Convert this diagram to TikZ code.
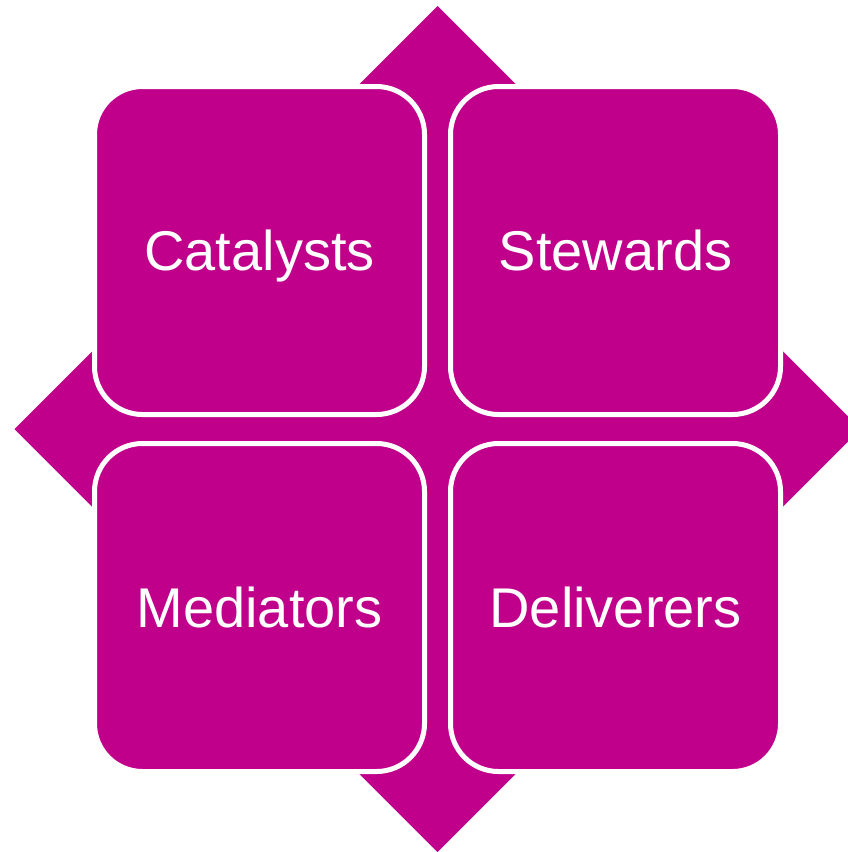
\documentclass[tikz,border=0pt]{standalone}
\usepackage{fontspec}
\setmainfont{Liberation Sans}
\usetikzlibrary{positioning}
\definecolor{matrixpink}{RGB}{192,0,139}

\begin{document}
\begin{tikzpicture}[x=1pt,y=-1pt,
					node distance=29pt and 26pt,
					quad/.style={rectangle,rounded corners=48pt,draw=white,line width=5pt,
						fill=matrixpink,outer sep=0pt,inner sep=0pt,
						minimum width=330pt,minimum height=328pt,
						text=white,font=\fontsize{56}{60}\selectfont,
						text height=40pt,text depth=0pt}]

  \useasboundingbox (0,0) rectangle (848,852);

  % diamond behind the matrix
  \fill[matrixpink] (437.5,6) -- (860.5,429) -- (437.5,852) -- (14.5,429) -- cycle;

  \node[quad] (C) at (259.5,250.5) {Catalysts};
  \node[quad] (S) [right=of C] {Stewards};
  \node[quad] (M) [below=of C] {Mediators};
  \node[quad] (D) [right=of M] {Deliverers};
\end{tikzpicture}
\end{document}
